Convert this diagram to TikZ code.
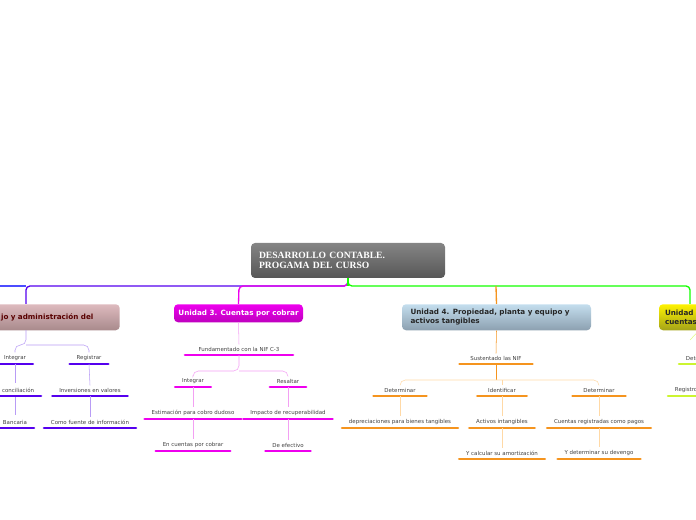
\documentclass[tikz,border=0pt]{standalone}
\usepackage{fontspec}
\setmainfont{DejaVu Sans}
\newfontfamily\rootfont{Liberation Serif}
\begin{document}
\begin{tikzpicture}[x=0.75pt,y=-0.75pt,
  leaf/.style={font=\fontsize{4.1}{5}\selectfont, text=black!75, inner xsep=#1, inner ysep=2.2pt, anchor=south},
  leaf/.default=5pt,
  ul/.style={line width=2pt, line cap=round},
  unit/.style={rounded corners=3pt, font=\bfseries\fontsize{5.4}{6.4}\selectfont, align=left, anchor=north, inner sep=0pt}]
\useasboundingbox (0,0) rectangle (696,520);
\clip (0,0) rectangle (696,520);
\definecolor{vio}{HTML}{5500EE}\definecolor{vioL}{HTML}{B89CF5}
\definecolor{mag}{HTML}{EE00EE}\definecolor{magL}{HTML}{F3A0F3}
\definecolor{ora}{HTML}{F5941E}\definecolor{oraL}{HTML}{FFD9A6}
\definecolor{lim}{HTML}{CCF530}
% root
\node[rounded corners=3pt, top color=black!48, bottom color=black!66, minimum width=194*0.75pt, minimum height=35*0.75pt, text width=178*0.75pt, font=\rootfont\bfseries\fontsize{7.2}{7.6}\selectfont, text=white, align=left, inner sep=0pt] (root) at (348,260.5) {DESARROLLO CONTABLE.\\PROGAMA DEL CURSO};
% unit boxes
\node[unit, anchor=north east, top color={rgb,255:red,222;green,186;blue,190}, bottom color={rgb,255:red,168;green,138;blue,140}, text=red!35!black, minimum width=180*0.75pt, minimum height=26*0.75pt, text width=180*0.75pt] (u2) at (120,304) {\hspace*{46pt}jo y administración del};
\node[unit, top color=mag, bottom color=mag!80!black, text=white, minimum width=129*0.75pt, minimum height=18*0.75pt, align=center] (u3) at (238.5,304) {Unidad 3. Cuentas por cobrar};
\node[unit, top color={rgb,255:red,196;green,222;blue,238}, bottom color={rgb,255:red,140;green,160;blue,176}, text=black!85, minimum width=189*0.75pt, minimum height=26*0.75pt, text width=172*0.75pt] (u4) at (496.5,304) {Unidad 4. Propiedad, planta y equipo y\\activos tangibles};
\node[unit, top color=yellow!90!orange, bottom color=yellow!60!black!90, text=black!85, minimum width=80*0.75pt, minimum height=26*0.75pt, text width=68*0.75pt] (u5) at (699,304) {Unidad\\cuentas};
% top bus
\draw[blue!70, line width=1pt] (0,286) -- (26,286);
\draw[vio, line width=1pt, rounded corners=3pt] (root.south) |- (26,286) -- (26,304);
\draw[mag, line width=1pt, rounded corners=3pt] (root.south) |- (239,286) -- (u3.north);
\draw[green!90!lime, line width=1pt, rounded corners=3pt] (root.south) |- (690,286) -- (690,304);
\draw[ora, line width=1pt] (496,286) -- (u4.north);
\draw[green!90!lime, line width=1pt] (root.south) -- (348,286);
% unit 2
\node[leaf] (a1) at (15,364) {Integrar};
\node[leaf] (a2) at (89,364) {Registrar};
\node[leaf, anchor=south east] (a3) at (41,396) {o conciliación};
\node[leaf] (a4) at (90,396) {Inversiones en valores};
\node[leaf] (a5) at (15,428) {Bancaria};
\node[leaf] (a6) at (90,428) {Como fuente de información};
\foreach \n in {a1,a2,a3,a4,a5,a6}{\draw[ul,vio] (\n.south west) -- (\n.south east);}
\draw[vioL, rounded corners=4pt] (26,330) -- (26,345) -| (a1.north);
\draw[vioL, rounded corners=4pt] (26,345) -| (a2.north);
\draw[vioL] (a1.south) -- (15,383); \draw[vioL] (a2.south) -- (a4.north);
\draw[vioL] (15,397) -- (15,415); \draw[vioL] (a4.south) -- (a6.north);
% unit 3
\node[leaf=10pt] (b0) at (239,355) {Fundamentado con la NIF C-3};
\node[leaf] (b1) at (193,387) {Integrar};
\node[leaf] (b2) at (288,387) {Resaltar};
\node[leaf] (b3) at (193,419) {Estimación para cobro dudoso};
\node[leaf] (b4) at (288,419) {Impacto de recuperabilidad};
\node[leaf] (b5) at (193,451) {En cuentas por cobrar};
\node[leaf] (b6) at (288,451) {De efectivo};
\foreach \n in {b0,b1,b2,b3,b4,b5,b6}{\draw[ul,mag] (\n.south west) -- (\n.south east);}
\draw[magL] (u3.south) -- (b0.north);
\draw[magL, rounded corners=4pt] (b0.south) -- (239,371) -| (b1.north);
\draw[magL, rounded corners=4pt] (239,371) -| (b2.north);
\draw[magL] (b1.south) -- (b3.north); \draw[magL] (b2.south) -- (b4.north);
\draw[magL] (b3.south) -- (b5.north); \draw[magL] (b4.south) -- (b6.north);
% unit 4
\node[leaf=8pt] (c0) at (496,364) {Sustentado las NIF};
\node[leaf=8pt] (c1) at (400,396) {Determinar};
\node[leaf=8pt] (c2) at (502,396) {Identificar};
\node[leaf=8pt] (c3) at (599,396) {Determinar};
\node[leaf] (c4) at (400,428) {depreciaciones para bienes tangibles};
\node[leaf] (c5) at (502,428) {Activos intangibles};
\node[leaf] (c6) at (599,428) {Cuentas registradas como pagos};
\node[leaf] (c7) at (502,459) {Y calcular su amortización};
\node[leaf] (c8) at (599,459) {Y determinar su devengo};
\foreach \n in {c0,c1,c2,c3,c4,c5,c6,c7,c8}{\draw[ul,ora] (\n.south west) -- (\n.south east);}
\draw[ora] (u4.south) -- (c0.north);
\draw[ora] (c0.south) -- (496,380);
\draw[oraL, rounded corners=4pt] (496,380) -| (c1.north);
\draw[oraL, rounded corners=4pt] (496,380) -| (c3.north);
\draw[oraL] (502,380) -- (c2.north);
\draw[oraL] (c1.south) -- (c4.north); \draw[oraL] (c2.south) -- (c5.north); \draw[oraL] (c3.south) -- (c6.north);
\draw[oraL] (c5.south) -- (c7.north); \draw[oraL] (c6.south) -- (c8.north);
% unit 5
\node[leaf, anchor=south west] (d1) at (679,364) {Determinar};
\node[leaf, anchor=south west] (d2) at (668,396) {Registro contable};
\foreach \n in {d1,d2}{\draw[ul,lim] (\n.south west) -- (\n.south east);}
\draw[lim!60] (u5.south) -- (690,340);
\end{tikzpicture}
\end{document}
